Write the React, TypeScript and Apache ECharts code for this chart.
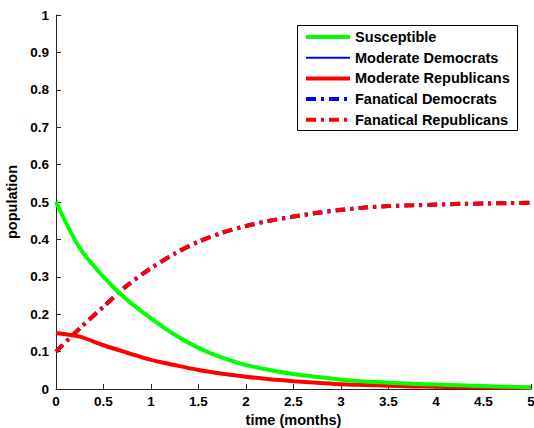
import React, { useEffect, useRef } from "react";
import * as echarts from "echarts";

const timePoints = [0, 0.25, 0.5, 0.75, 1, 1.25, 1.5, 1.75, 2, 2.25, 2.5, 2.75, 3, 3.25, 3.5, 3.75, 4, 4.25, 4.5, 4.75, 5];
const susceptible = [0.5, 0.377, 0.3, 0.238, 0.189, 0.145, 0.11, 0.084, 0.064, 0.051, 0.04, 0.032, 0.025, 0.02, 0.017, 0.014, 0.012, 0.01, 0.008, 0.006, 0.005];
const moderateRepublicans = [0.15, 0.14, 0.117, 0.097, 0.078, 0.064, 0.051, 0.041, 0.033, 0.026, 0.021, 0.017, 0.013, 0.011, 0.009, 0.007, 0.006, 0.005, 0.004, 0.0035, 0.003];
const moderateDemocrats = [0.15, 0.14, 0.117, 0.097, 0.078, 0.064, 0.051, 0.041, 0.033, 0.026, 0.021, 0.017, 0.013, 0.011, 0.009, 0.007, 0.006, 0.005, 0.004, 0.0035, 0.003];
const fanaticalRepublicans = [0.1, 0.162, 0.22, 0.277, 0.323, 0.362, 0.394, 0.418, 0.436, 0.45, 0.461, 0.471, 0.479, 0.485, 0.489, 0.491, 0.493, 0.495, 0.496, 0.497, 0.498];
const fanaticalDemocrats = [0.1, 0.162, 0.22, 0.277, 0.323, 0.362, 0.394, 0.418, 0.436, 0.45, 0.461, 0.471, 0.479, 0.485, 0.489, 0.491, 0.493, 0.495, 0.496, 0.497, 0.498];
const legendNames = ["Susceptible", "Moderate Democrats", "Moderate Republicans", "Fanatical Democrats", "Fanatical Republicans"];

const FONT = "'Liberation Sans', Arial, Helvetica, sans-serif";
const DASHDOT = [10, 5, 3, 5];

const pairs = (ys: number[]) => timePoints.map((t, i) => [t, ys[i]]);

export default function App() {
  const ref = useRef<HTMLDivElement>(null);
  useEffect(() => {
    if (!ref.current) return;
    const chart = echarts.init(ref.current, null, { renderer: "svg" });
    const styles = [
      { color: "#00ff00", width: 4, type: "solid" as any },
      { color: "#0000ff", width: 2, type: "solid" as any },
      { color: "#ff0000", width: 4, type: "solid" as any },
      { color: "#0000ff", width: 4, type: DASHDOT as any },
      { color: "#ff0000", width: 4, type: DASHDOT as any },
    ];
    const legendGraphics: any[] = [
      {
        type: "rect",
        shape: { x: 297.5, y: 25.5, width: 220, height: 105 },
        style: { fill: "#fff", stroke: "#000", lineWidth: 1 },
        z: 100,
      },
    ];
    legendNames.forEach((name, i) => {
      const y = 37 + i * 20.7;
      legendGraphics.push({
        type: "line",
        shape: { x1: 306, y1: y, x2: 350, y2: y },
        style: { stroke: styles[i].color, lineWidth: styles[i].width, lineDash: Array.isArray(styles[i].type) ? styles[i].type : null },
        z: 101,
      });
      legendGraphics.push({
        type: "text",
        x: 355,
        y: y,
        style: { text: name, fill: "#000", font: `bold 14.5px ${FONT}`, textVerticalAlign: "middle", textAlign: "left" },
        z: 101,
      });
    });

    chart.setOption({
      animation: false,
      backgroundColor: "#fff",
      grid: { left: 56, right: 3, top: 15, bottom: 39, containLabel: false, outerBoundsMode: "none" },
      xAxis: {
        type: "value",
        min: 0,
        max: 5,
        interval: 0.5,
        name: "time (months)",
        nameLocation: "middle",
        nameGap: 22,
        nameTextStyle: { color: "#000", fontWeight: "bold", fontSize: 14.5, fontFamily: FONT },
        axisLine: { show: true, lineStyle: { color: "#262626", width: 1 } },
        axisTick: { show: true, inside: true, length: 5, lineStyle: { color: "#262626" } },
        axisLabel: { color: "#000", fontWeight: "bold", fontSize: 13.5, fontFamily: FONT, margin: 5 },
        splitLine: { show: false },
      },
      yAxis: {
        type: "value",
        min: 0,
        max: 1,
        interval: 0.1,
        name: "population",
        nameLocation: "middle",
        nameGap: 34,
        nameRotate: 90,
        nameTextStyle: { color: "#000", fontWeight: "bold", fontSize: 14.5, fontFamily: FONT },
        axisLine: { show: true, lineStyle: { color: "#262626", width: 1 } },
        axisTick: { show: true, inside: true, length: 5, lineStyle: { color: "#262626" } },
        axisLabel: {
          color: "#000",
          fontWeight: "bold",
          fontSize: 13.5,
          fontFamily: FONT,
          margin: 7,
          formatter: (v: number) => String(Math.round(v * 10) / 10),
        },
        splitLine: { show: false },
      },
      graphic: legendGraphics,
      series: [
        { name: legendNames[1], data: pairs(moderateDemocrats), ls: styles[1] },
        { name: legendNames[3], data: pairs(fanaticalDemocrats), ls: styles[3] },
        { name: legendNames[2], data: pairs(moderateRepublicans), ls: styles[2] },
        { name: legendNames[4], data: pairs(fanaticalRepublicans), ls: styles[4] },
        { name: legendNames[0], data: pairs(susceptible), ls: styles[0] },
      ].map((s) => ({
        type: "line",
        name: s.name,
        data: s.data,
        smooth: 0.3,
        showSymbol: false,
        symbol: "none",
        lineStyle: { color: s.ls.color, width: s.ls.width, type: s.ls.type },
        itemStyle: { color: s.ls.color },
      })),
    });
    return () => chart.dispose();
  }, []);
  return (
    <div
      ref={ref}
      style={{ position: "fixed", left: 0, top: 0, width: 534, height: 428 }}
    />
  );
}
